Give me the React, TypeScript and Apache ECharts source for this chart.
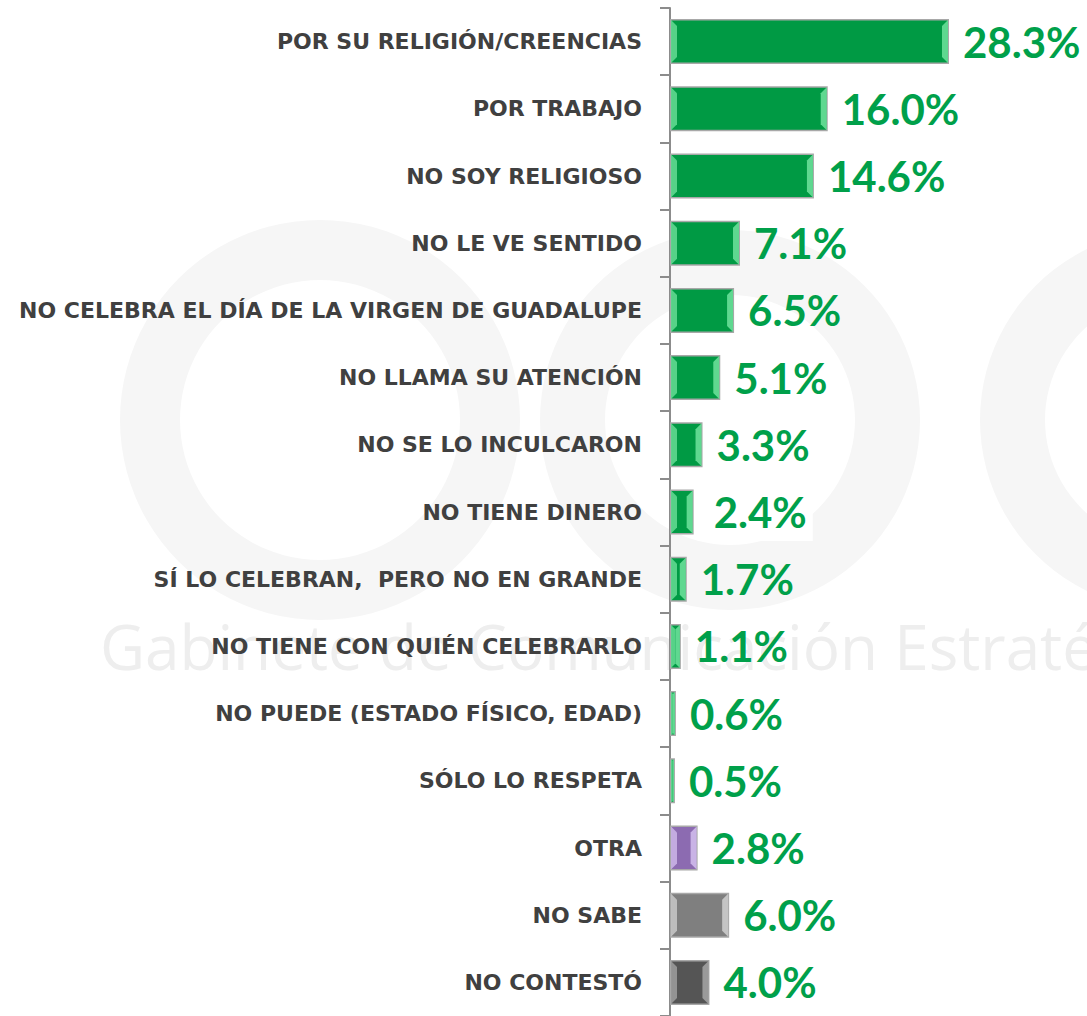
import React, { useEffect, useRef } from "react";
import * as echarts from "echarts";

const categories = [
  "POR SU RELIGIÓN/CREENCIAS",
  "POR TRABAJO",
  "NO SOY RELIGIOSO",
  "NO LE VE SENTIDO",
  "NO CELEBRA EL DÍA DE LA VIRGEN DE GUADALUPE",
  "NO LLAMA SU ATENCIÓN",
  "NO SE LO INCULCARON",
  "NO TIENE DINERO",
  "SÍ LO CELEBRAN,  PERO NO EN GRANDE",
  "NO TIENE CON QUIÉN CELEBRARLO",
  "NO PUEDE (ESTADO FÍSICO, EDAD)",
  "SÓLO LO RESPETA",
  "OTRA",
  "NO SABE",
  "NO CONTESTÓ",
];
const values = [28.3, 16.0, 14.6, 7.1, 6.5, 5.1, 3.3, 2.4, 1.7, 1.1, 0.6, 0.5, 2.8, 6.0, 4.0];
const barColors = [
  "#009A44", "#009A44", "#009A44", "#009A44", "#009A44", "#009A44", "#009A44",
  "#009A44", "#009A44", "#009A44", "#009A44", "#009A44", "#8C6BB1", "#7F7F7F", "#555555",
];
const bevelColors = [
  "#5FD890", "#5FD890", "#5FD890", "#5FD890", "#5FD890", "#5FD890", "#5FD890",
  "#5FD890", "#5FD890", "#5FD890", "#5FD890", "#5FD890", "#C9B3E6", "#C4C4C4", "#9A9A9A",
];
const whiteLabelIndex = 7;

export default function App() {
  const ref = useRef<HTMLDivElement>(null);
  useEffect(() => {
    if (!ref.current) return;
    const chart = echarts.init(ref.current, undefined, { renderer: "svg" });
    const barW = 45;
    chart.setOption({
      animation: false,
      backgroundColor: "#ffffff",
      graphic: [
        { type: "ring", z: -10, shape: { cx: 320, cy: 420, r: 200, r0: 140 }, style: { fill: "#f6f6f6" }, silent: true },
        { type: "ring", z: -10, shape: { cx: 730, cy: 420, r: 190, r0: 125 }, style: { fill: "#f6f6f6" }, silent: true },
        { type: "ring", z: -10, shape: { cx: 1170, cy: 420, r: 190, r0: 125 }, style: { fill: "#f6f6f6" }, silent: true },
        {
          type: "text", z: -10, left: 100, top: 615, silent: true,
          style: { text: "Gabinete de Comunicación Estratégica", fill: "#eeeeee", font: "normal 62px 'Open Sans'" },
        },
      ],
      grid: { left: 670, right: 0, top: 8, bottom: -5, containLabel: false },
      xAxis: { type: "value", min: 0, max: 42.3, show: false },
      yAxis: {
        type: "category",
        inverse: true,
        data: categories,
        axisLine: { show: true, lineStyle: { color: "#8c8c8c", width: 2 } },
        axisTick: { show: true, length: 10, lineStyle: { color: "#8c8c8c", width: 2 } },
        axisLabel: {
          margin: 28,
          color: "#404040",
          fontSize: 22,
          fontWeight: "bold",
          fontFamily: "DejaVu Sans",
        },
      },
      series: [
        {
          type: "bar",
          barWidth: barW,
          data: values.map((v, i) => ({
            value: v,
            itemStyle: { color: barColors[i], borderColor: "#a8a8a8", borderWidth: 1.5 },
            label: i === whiteLabelIndex ? { backgroundColor: "#ffffff", padding: [8, 6, 8, 6] } : undefined,
          })),
          label: {
            show: true,
            position: "right",
            distance: 14,
            color: "#00A04A",
            fontSize: 42,
            fontWeight: "bold",
            fontFamily: "Lato",
            formatter: (p: any) => `${Number(p.value).toFixed(1)}%`,
          },
          z: 2,
        },
        {
          type: "custom",
          z: 3,
          silent: true,
          data: values.map((v, i) => [v, i]),
          encode: { x: 0, y: 1 },
          renderItem: (params: any, api: any) => {
            const v = api.value(0);
            const idx = api.value(1);
            const p0 = api.coord([0, idx]);
            const p1 = api.coord([v, idx]);
            const x0 = p0[0] + 1;
            const x1 = p1[0] - 1;
            const y0 = p0[1] - barW / 2 + 1;
            const y1 = p0[1] + barW / 2 - 1;
            const w = x1 - x0;
            if (w <= 0) return null;
            const b = Math.min(6, w / 2);
            const c = bevelColors[idx];
            return {
              type: "group",
              children: [
                {
                  type: "polygon",
                  shape: { points: [[x0, y0], [x0 + b, y0 + b], [x0 + b, y1 - b], [x0, y1]] },
                  style: { fill: c, opacity: 0.9 },
                },
                {
                  type: "polygon",
                  shape: { points: [[x1, y0], [x1 - b, y0 + b], [x1 - b, y1 - b], [x1, y1]] },
                  style: { fill: c },
                },
              ],
            };
          },
        },
      ],
    });
    return () => chart.dispose();
  }, []);
  return <div ref={ref} style={{ position: "absolute", left: 0, top: 0, width: 1087, height: 1016 }} />;
}
